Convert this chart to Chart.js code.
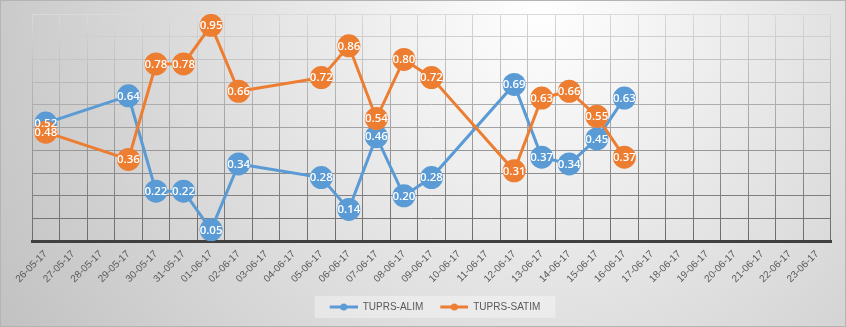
<!DOCTYPE html>
<html>
<head>
<meta charset="utf-8">
<script src="https://cdn.jsdelivr.net/npm/chart.js@4"></script>
<style>
  html, body { margin: 0; padding: 0; background: #fff; }
  #kutu { width: 846px; height: 327px; position: relative; }
</style>
</head>
<body>
<div id="kutu"><canvas id="line-chart"></canvas></div>
<script>
const tarihler = [
  "26-05-17", "27-05-17", "28-05-17", "29-05-17", "30-05-17", "31-05-17",
  "01-06-17", "02-06-17", "03-06-17", "04-06-17", "05-06-17", "06-06-17",
  "07-06-17", "08-06-17", "09-06-17", "10-06-17", "11-06-17", "12-06-17",
  "13-06-17", "14-06-17", "15-06-17", "16-06-17", "17-06-17", "18-06-17",
  "19-06-17", "20-06-17", "21-06-17", "22-06-17", "23-06-17"
];
const alim = [
  0.52, null, null, 0.64, 0.22, 0.22, 0.05, 0.34, null, null, 0.28, 0.14,
  0.46, 0.20, 0.28, null, null, 0.69, 0.37, 0.34, 0.45, 0.63,
  null, null, null, null, null, null, null
];
const satim = [
  0.48, null, null, 0.36, 0.78, 0.78, 0.95, 0.66, null, null, 0.72, 0.86,
  0.54, 0.80, 0.72, null, null, 0.31, 0.63, 0.66, 0.55, 0.37,
  null, null, null, null, null, null, null
];
const seriAdlari = ["TUPRS-ALIM", "TUPRS-SATIM"];

const mavi = "#5B9BD5";
const turuncu = "#ED7D31";

// legend isareti: solda bosluk, cizgi + ortada nokta
function isaret(renk) {
  const c = document.createElement("canvas");
  c.width = 35; c.height = 8;
  const x = c.getContext("2d");
  x.strokeStyle = renk; x.lineWidth = 3;
  x.beginPath(); x.moveTo(7, 4); x.lineTo(35, 4); x.stroke();
  x.fillStyle = renk;
  x.beginPath(); x.arc(21, 4, 3.5, 0, Math.PI * 2); x.fill();
  return c;
}

let izgaraCache = null;
function izgaraRengi(chart) {
  const a = chart.chartArea;
  if (!a) return "#999";
  if (izgaraCache && izgaraCache.top === a.top && izgaraCache.bottom === a.bottom) return izgaraCache.g;
  const g = chart.ctx.createLinearGradient(0, a.top, 0, a.bottom);
  g.addColorStop(0, "#dadada");
  g.addColorStop(1, "#6a6a6a");
  izgaraCache = { top: a.top, bottom: a.bottom, g: g };
  return g;
}

function griTon(v) {
  // ust cizgiler acik, alt cizgiler koyu
  const t = Math.max(0, Math.min(1, v));
  const c = Math.round(0x6a + (0xda - 0x6a) * t);
  return "rgb(" + c + "," + c + "," + c + ")";
}

const arkaPlan = {
  id: "arkaPlan",
  beforeDraw(chart) {
    const ctx = chart.ctx;
    const w = chart.width, h = chart.height;
    ctx.save();
    const g = ctx.createRadialGradient(540, 10, 0, 540, 10, 620);
    g.addColorStop(0, "#ffffff");
    g.addColorStop(1, "#c2c2c2");
    ctx.fillStyle = g;
    ctx.fillRect(0, 0, w, h);
    ctx.strokeStyle = "#b4b4b4";
    ctx.lineWidth = 1;
    ctx.strokeRect(0.5, 0.5, w - 1, h - 1);

    const kutular = chart.legend && chart.legend.legendHitBoxes;
    if (kutular && kutular.length) {
      const sol = Math.min(...kutular.map(k => k.left)) - 8;
      const sag = Math.max(...kutular.map(k => k.left + k.width)) + 15;
      const ust = Math.min(...kutular.map(k => k.top)) - 6;
      const alt = Math.max(...kutular.map(k => k.top + k.height)) + 6;
      ctx.fillStyle = "rgba(255,255,255,0.35)";
      ctx.fillRect(sol, ust, sag - sol, alt - ust);
    }
    ctx.restore();
  }
};

const degerYazilari = {
  id: "degerYazilari",
  afterDatasetsDraw(chart) {
    const ctx = chart.ctx;
    ctx.save();
    ctx.font = '600 11.5px "Open Sans"';
    ctx.fillStyle = "#ffffff";
    ctx.textAlign = "center";
    ctx.textBaseline = "middle";
    chart.data.datasets.forEach((ds, i) => {
      const meta = chart.getDatasetMeta(i);
      meta.data.forEach((p, j) => {
        const v = ds.data[j];
        if (v === null || v === undefined) return;
        ctx.fillText(v.toFixed(2), p.x, p.y + 0.5);
      });
    });
    ctx.restore();
  }
};

new Chart(document.getElementById("line-chart"), {
  type: "line",
  data: {
    labels: tarihler,
    datasets: [
      {
        label: seriAdlari[0],
        data: alim,
        order: 1,
        borderColor: mavi,
        backgroundColor: mavi,
        borderWidth: 3,
        pointRadius: 11.5,
        pointHoverRadius: 11.5,
        pointBorderWidth: 0,
        spanGaps: true,
        fill: false
      },
      {
        label: seriAdlari[1],
        data: satim,
        order: 0,
        borderColor: turuncu,
        backgroundColor: turuncu,
        borderWidth: 3,
        pointRadius: 11.5,
        pointHoverRadius: 11.5,
        pointBorderWidth: 0,
        spanGaps: true,
        fill: false
      }
    ]
  },
  options: {
    responsive: true,
    maintainAspectRatio: false,
    animation: false,
    layout: { padding: { left: 32, right: 15, top: 14, bottom: 5 } },
    scales: {
      x: {
        offset: true,
        grid: {
          offset: true,
          drawTicks: false,
          color: (c) => izgaraRengi(c.chart),
          lineWidth: 1
        },
        border: { color: "#404040", width: 3 },
        ticks: {
          autoSkip: false,
          minRotation: 45,
          maxRotation: 45,
          padding: 7,
          color: "#595959",
          font: { family: '"Liberation Sans"', size: 10 }
        }
      },
      y: {
        min: 0,
        max: 1,
        ticks: { display: false, stepSize: 0.1 },
        border: { display: false },
        grid: {
          drawTicks: false,
          color: (c) => griTon(c.tick ? c.tick.value : 0),
          lineWidth: 1
        }
      }
    },
    plugins: {
      tooltip: { enabled: false },
      legend: {
        position: "bottom",
        labels: {
          usePointStyle: true,
          pointStyleWidth: 35,
          color: "#595959",
          font: { family: '"Liberation Sans"', size: 10 },
          padding: 10,
          sort: (a, b) => a.datasetIndex - b.datasetIndex,
          generateLabels(chart) {
            const items = Chart.defaults.plugins.legend.labels.generateLabels(chart);
            items.forEach(it => {
              it.pointStyle = isaret(chart.data.datasets[it.datasetIndex].borderColor);
            });
            return items;
          }
        }
      }
    }
  },
  plugins: [arkaPlan, degerYazilari]
});
</script>
</body>
</html>
